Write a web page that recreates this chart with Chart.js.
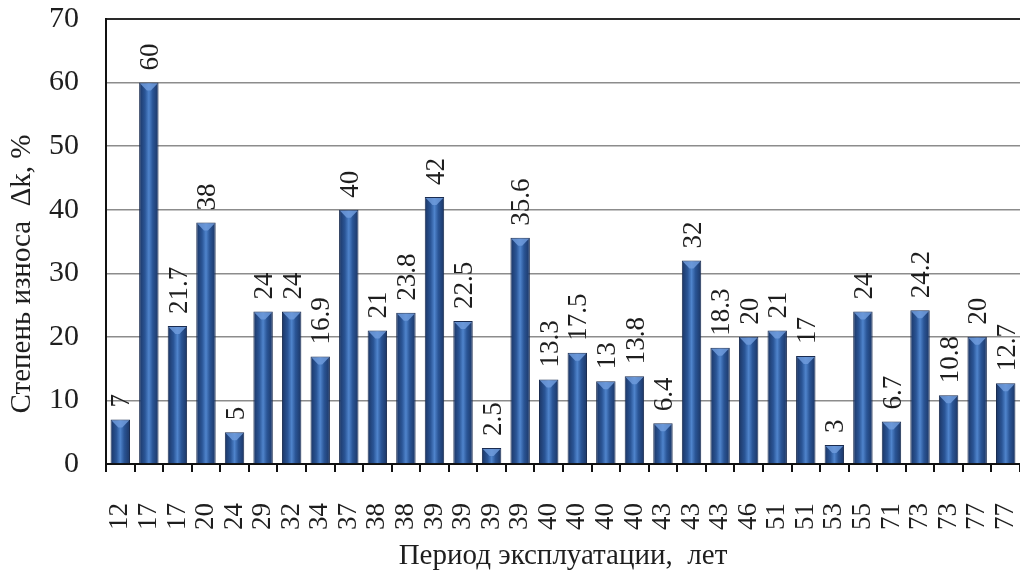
<!DOCTYPE html>
<html>
<head>
<meta charset="utf-8">
<script src="https://cdn.jsdelivr.net/npm/chart.js@4/dist/chart.umd.min.js"></script>
<style>
  html, body { margin: 0; padding: 0; background: #ffffff; }
  #c { display: block; }
</style>
</head>
<body>
<canvas id="c" width="1020" height="576"></canvas>
<script>
// Service period of each object, years
const periods = ['12', '17', '17', '20', '24', '29', '32', '34', '37', '38', '38',
  '39', '39', '39', '39', '40', '40', '40', '40', '43', '43', '43', '46',
  '51', '51', '53', '55', '71', '73', '73', '77', '77'];

// Degree of wear, %
const wear = [7, 60, 21.7, 38, 5, 24, 24, 16.9, 40, 21, 23.8,
  42, 22.5, 2.5, 35.6, 13.3, 17.5, 13, 13.8, 6.4, 32, 18.3, 20,
  21, 17, 3, 24, 6.7, 24.2, 10.8, 20, 12.7];

// Value axis range and step
const yRange = [0, 70];
const yStep = 10;

const xTitle = 'Период эксплуатации,  лет';
const yTitle = 'Степень износа  Δk, %';

const SERIF = "'Liberation Serif', 'Times New Roman', serif";
const TEXT = '#1e1e1e';
const BAR_PCT = 0.68;

// Horizontal shading across each column
function barGradient(ctx) {
  const chart = ctx.chart;
  const xs = chart.scales.x;
  if (!chart.chartArea || !xs || ctx.dataIndex === undefined) return '#2d5597';
  const cx = xs.getPixelForValue(ctx.dataIndex);
  const half = (xs.width / periods.length) * BAR_PCT / 2;
  const g = chart.ctx.createLinearGradient(cx - half, 0, cx + half, 0);
  g.addColorStop(0, '#1b3564');
  g.addColorStop(0.3, '#2a5596');
  g.addColorStop(0.5, '#4f84cc');
  g.addColorStop(0.7, '#2a5596');
  g.addColorStop(1, '#1b3564');
  return g;
}

// Light bevel on the top of each column
const bevel = {
  id: 'bevel',
  afterDatasetsDraw(chart) {
    const c = chart.ctx;
    chart.getDatasetMeta(0).data.forEach(bar => {
      const l = bar.x - bar.width / 2 + 1, r = bar.x + bar.width / 2 - 1;
      const t = bar.y + 1;
      c.save();
      c.fillStyle = 'rgba(110,155,220,0.85)';
      c.beginPath();
      c.moveTo(l, t);
      c.lineTo(r, t);
      c.lineTo(bar.x + 2, t + 7);
      c.lineTo(bar.x - 2, t + 7);
      c.closePath();
      c.fill();
      c.restore();
    });
  }
};

// Rotated value labels above the columns
const valueLabels = {
  id: 'valueLabels',
  afterDatasetsDraw(chart) {
    const c = chart.ctx;
    chart.getDatasetMeta(0).data.forEach((bar, i) => {
      c.save();
      c.translate(bar.x + 2, bar.y - 12);
      c.rotate(-Math.PI / 2);
      c.font = '27px ' + SERIF;
      c.fillStyle = TEXT;
      c.textAlign = 'left';
      c.textBaseline = 'middle';
      c.fillText(String(wear[i]), 0, 0);
      c.restore();
    });
  }
};

// Vertical axis title
const yAxisTitle = {
  id: 'yAxisTitle',
  afterDraw(chart) {
    const c = chart.ctx;
    c.save();
    c.translate(22, 274);
    c.rotate(-Math.PI / 2);
    c.font = '29px ' + SERIF;
    c.fillStyle = TEXT;
    c.textAlign = 'center';
    c.textBaseline = 'middle';
    c.fillText(yTitle, 0, 0);
    c.restore();
  }
};

new Chart(document.getElementById('c'), {
  type: 'bar',
  data: {
    labels: periods,
    datasets: [{
      data: wear,
      backgroundColor: barGradient,
      borderColor: '#1a2c50',
      borderWidth: 1,
      barPercentage: BAR_PCT,
      categoryPercentage: 1
    }]
  },
  options: {
    responsive: false,
    animation: false,
    events: [],
    layout: { padding: { top: 19, right: 0, bottom: 0, left: 0 } },
    plugins: { legend: { display: false }, tooltip: { enabled: false } },
    scales: {
      x: {
        offset: true,
        grid: {
          offset: true,
          drawOnChartArea: false,
          drawTicks: true,
          tickLength: 8,
          color: '#111',
          lineWidth: 2
        },
        border: { color: '#111', width: 2 },
        ticks: {
          autoSkip: false,
          minRotation: 90,
          maxRotation: 90,
          padding: 31,
          color: TEXT,
          font: { family: SERIF, size: 27 }
        },
        title: {
          display: true,
          text: xTitle,
          color: TEXT,
          font: { family: SERIF, size: 29 },
          padding: { top: 0, bottom: 2 }
        },
        afterFit(scale) {
          scale.height = 112;
          scale.paddingLeft = 0;
          scale.paddingRight = 0;
          scale.paddingTop = 0;
          scale.paddingBottom = 0;
        }
      },
      y: {
        min: yRange[0],
        max: yRange[1],
        ticks: {
          stepSize: yStep,
          padding: 27,
          color: TEXT,
          font: { family: SERIF, size: 30 }
        },
        grid: {
          drawTicks: false,
          color: ctx => (ctx.tick && ctx.tick.value === yRange[1]) ? '#2a2a2a' : '#8c8c8c',
          lineWidth: ctx => (ctx.tick && ctx.tick.value === yRange[1]) ? 2 : 1.5
        },
        border: { color: '#111', width: 2 },
        afterFit(scale) {
          scale.width = 106;
          scale.paddingTop = 0;
          scale.paddingBottom = 0;
          scale.paddingLeft = 0;
          scale.paddingRight = 0;
        }
      }
    }
  },
  plugins: [bevel, valueLabels, yAxisTitle]
});
</script>
</body>
</html>
